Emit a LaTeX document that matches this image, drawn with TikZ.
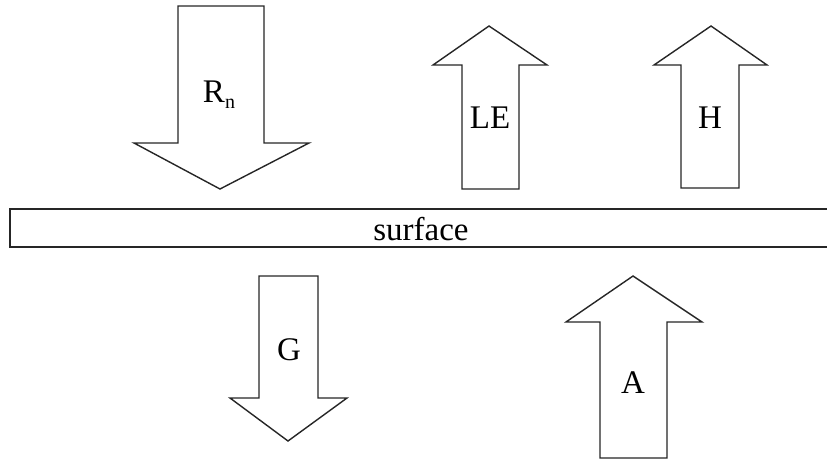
\documentclass[tikz,border=0pt]{standalone}
\usepackage{fontspec}
\setmainfont{Liberation Serif}
\begin{document}
\begin{tikzpicture}[x=1pt,y=-1pt,
  outline/.style={draw=black!85, line width=1.4pt, line join=miter, fill=white},
  lbl/.style={font=\fontsize{33}{38}\selectfont, inner sep=0pt}]
\useasboundingbox (0,0) rectangle (827,459);
% R_n (down)
\draw[outline] (178,6) -- (264,6) -- (264,143) -- (309,143) -- (220,189) -- (134,143) -- (178,143) -- cycle;
\node[lbl] (rn) at (219,95) {R\raisebox{-0.4ex}{\fontsize{20}{22}\selectfont n}};
% LE (up)
\draw[outline] (462,189) -- (462,65) -- (433,65) -- (489,26) -- (547,65) -- (519,65) -- (519,189) -- cycle;
\node[lbl] (le) at (490,118) {LE};
% H (up)
\draw[outline] (681,188) -- (681,65) -- (654,65) -- (711,26) -- (767,65) -- (739,65) -- (739,188) -- cycle;
\node[lbl] (h) at (710,118) {H};
% surface
\draw[draw=black!85, line width=1.4pt] (828,209) -- (10,209) -- (10,247) -- (828,247);
\node[lbl] (surf) at (421,229) {surface};
% G (down)
\draw[outline] (259,276) -- (318,276) -- (318,398) -- (347,398) -- (288,441) -- (230,398) -- (259,398) -- cycle;
\node[lbl] (g) at (289,350) {G};
% A (up)
\draw[outline] (600,458) -- (600,322) -- (566,322) -- (633,276) -- (702,322) -- (667,322) -- (667,458) -- cycle;
\node[lbl] (a) at (633,383) {A};
\end{tikzpicture}
\end{document}
